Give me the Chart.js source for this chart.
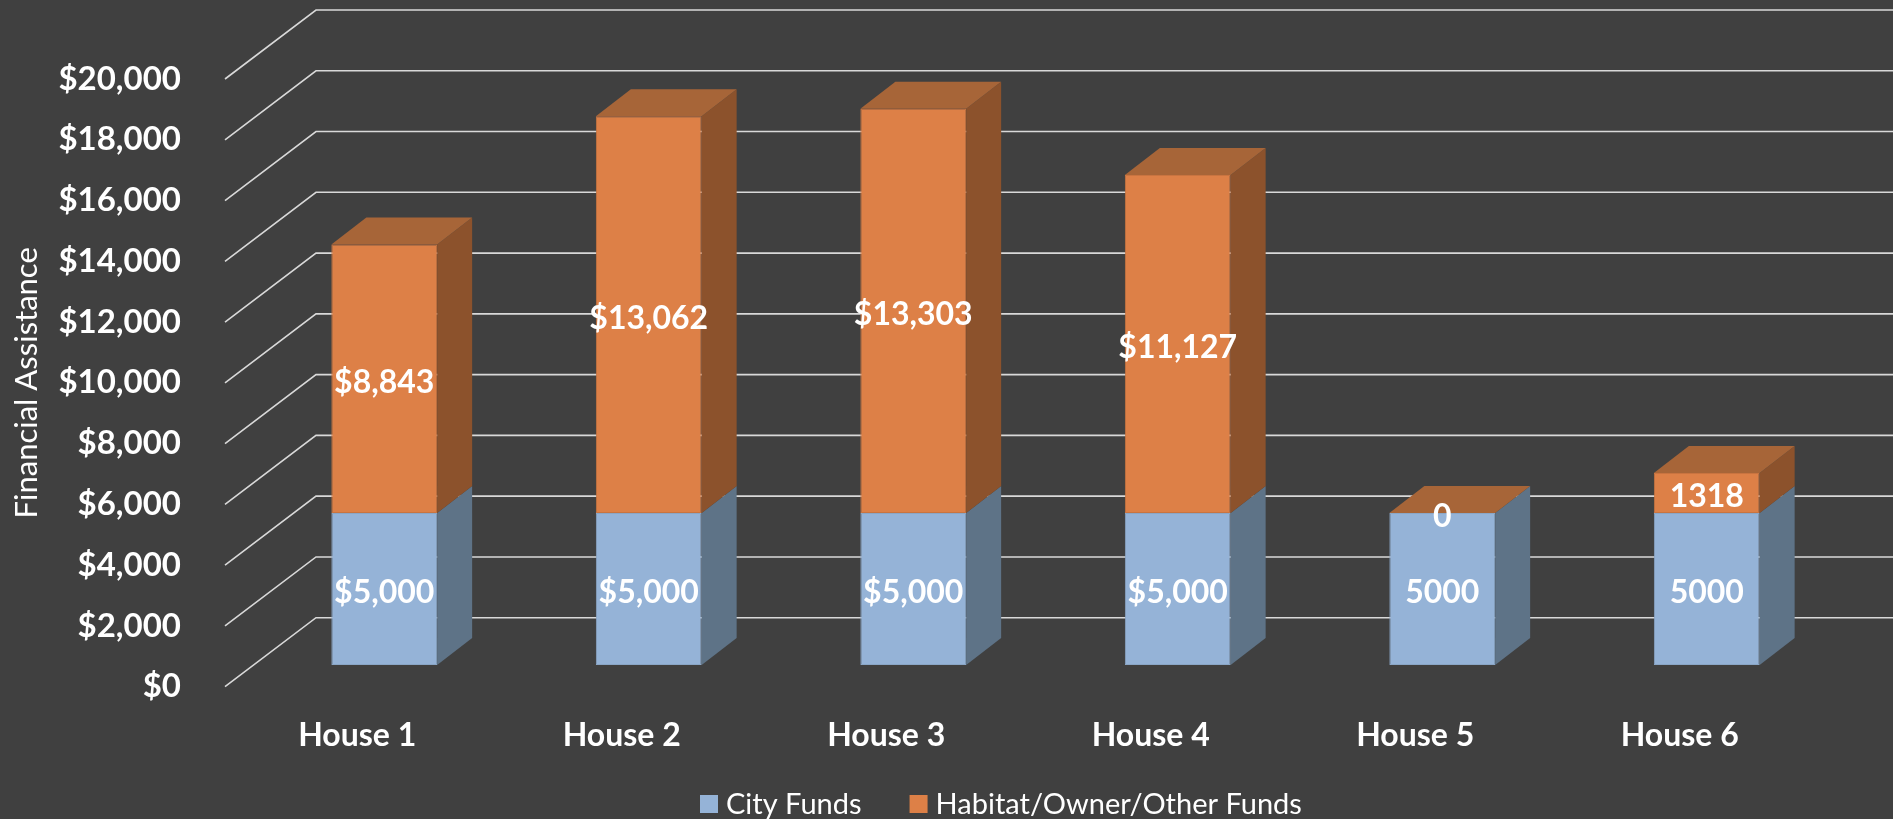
<!DOCTYPE html>
<html><head><meta charset="utf-8">
<script src="https://cdn.jsdelivr.net/npm/chart.js@4/dist/chart.umd.min.js"></script>
<style>
html,body{margin:0;padding:0;background:#404040;overflow:hidden}
#wrap{position:relative;width:1893px;height:819px}
</style></head>
<body><div id="wrap"><canvas id="c"></canvas></div>
<script>
// ---- data ----
const categories = ['House 1','House 2','House 3','House 4','House 5','House 6'];
const cityFunds  = [5000, 5000, 5000, 5000, 5000, 5000];
const otherFunds = [8843, 13062, 13303, 11127, 0, 1318];
const seriesNames = ['City Funds', 'Habitat/Owner/Other Funds'];
const dollarLabels = [true, true, true, true, false, false]; // label style per house
const yMin = 0, yMax = 20000, yStep = 2000;
const yTitle = 'Financial Assistance';

// ---- style ----
const FONT = 'Lato, "Open Sans", sans-serif';
const frontCol = ['#95b3d7', '#dd8047'];
const sideCol  = ['#5e7387', '#8c522c'];
const topCol   = ['#7f98b6', '#a76538'];
const SHIFT = {x: 27, y: -21.7};   // bar front plane offset from floor front
const DEPTH = {x: 35, y: -27};     // bar depth
const FLOOR = {x: 91, y: -69};     // floor / wall depth

const fmtDollar = v => '$' + Number(v).toLocaleString('en-US');

const depth3d = {
  id: 'depth3d',
  beforeDatasetsDraw(chart) {
    const {ctx, chartArea: a, scales: {y}} = chart;
    ctx.save();
    ctx.strokeStyle = '#d9d9d9';
    ctx.lineWidth = 1.6;
    y.ticks.forEach(t => {
      const py = y.getPixelForValue(t.value);
      ctx.beginPath();
      ctx.moveTo(a.left, py);
      ctx.lineTo(a.left + FLOOR.x, py + FLOOR.y);
      ctx.lineTo(chart.width, py + FLOOR.y);
      ctx.stroke();
    });
    const n = chart.data.datasets.length;
    chart.data.datasets.forEach((ds, di) => {
      const meta = chart.getDatasetMeta(di);
      meta.data.forEach(bar => {
        const p = bar.getProps(['x', 'y', 'base', 'width'], true);
        const l = p.x - p.width / 2 + SHIFT.x, r = p.x + p.width / 2 + SHIFT.x;
        const t = Math.min(p.y, p.base) + SHIFT.y, b = Math.max(p.y, p.base) + SHIFT.y;
        ctx.fillStyle = sideCol[di];
        ctx.beginPath();
        ctx.moveTo(r, b); ctx.lineTo(r + DEPTH.x, b + DEPTH.y);
        ctx.lineTo(r + DEPTH.x, t + DEPTH.y); ctx.lineTo(r, t);
        ctx.closePath(); ctx.fill();
        if (di === n - 1) {
          ctx.fillStyle = topCol[di];
          ctx.beginPath();
          ctx.moveTo(l, t); ctx.lineTo(l + DEPTH.x, t + DEPTH.y);
          ctx.lineTo(r + DEPTH.x, t + DEPTH.y); ctx.lineTo(r, t);
          ctx.closePath(); ctx.fill();
        }
      });
    });
    ctx.translate(SHIFT.x, SHIFT.y);
  },
  afterDatasetsDraw(chart) {
    const ctx = chart.ctx;
    ctx.restore();
    ctx.save();
    ctx.fillStyle = '#ffffff';
    ctx.font = 'bold 32px ' + FONT;
    ctx.textAlign = 'center';
    ctx.textBaseline = 'middle';
    chart.data.datasets.forEach((ds, di) => {
      const meta = chart.getDatasetMeta(di);
      meta.data.forEach((bar, i) => {
        const p = bar.getProps(['x', 'y', 'base'], true);
        const v = ds.data[i];
        const txt = dollarLabels[i] ? fmtDollar(v) : String(v);
        ctx.fillText(txt, p.x + SHIFT.x, (p.y + p.base) / 2 + SHIFT.y + 4);
      });
    });
    ctx.restore();
  },
  afterDraw(chart) {
    const ctx = chart.ctx;
    ctx.save();
    ctx.font = '29px ' + FONT;
    ctx.textBaseline = 'middle';
    ctx.textAlign = 'left';
    let x = 700; const cy = 804;
    chart.data.datasets.forEach((ds, di) => {
      ctx.fillStyle = frontCol[di];
      ctx.fillRect(x, cy - 9, 18, 18);
      ctx.fillStyle = '#ffffff';
      ctx.fillText(ds.label, x + 26, cy + 1);
      x += 26 + ctx.measureText(ds.label).width + 48;
    });
    ctx.restore();
  }
};

function build() {
  new Chart(document.getElementById('c'), {
    type: 'bar',
    data: {
      labels: categories,
      datasets: [
        {label: seriesNames[0], data: cityFunds, backgroundColor: frontCol[0], borderColor: '#8aa6c6', borderWidth: 1, borderSkipped: false},
        {label: seriesNames[1], data: otherFunds, backgroundColor: frontCol[1], borderColor: '#c97440', borderWidth: 1, borderSkipped: false}
      ]
    },
    options: {
      responsive: true, maintainAspectRatio: false, devicePixelRatio: 1, animation: false,
      layout: {padding: {left: 0, right: 81, top: 79, bottom: 0}},
      datasets: {bar: {barPercentage: 1, categoryPercentage: 0.4}},
      plugins: {legend: {display: false}, tooltip: {enabled: false}},
      scales: {
        x: {
          stacked: true,
          grid: {display: false, drawTicks: false}, border: {display: false},
          ticks: {color: '#ffffff', font: {family: FONT, size: 32, weight: 'bold'}, padding: 30, maxRotation: 0},
          afterFit(s) { s.height = 132.3; }
        },
        y: {
          stacked: true, min: yMin, max: yMax,
          grid: {display: false, drawTicks: false}, border: {display: false},
          ticks: {stepSize: yStep, color: '#ffffff', font: {family: FONT, size: 33, weight: 'bold'}, padding: 44,
                  callback: v => fmtDollar(v)},
          title: {display: true, text: yTitle, color: '#ffffff', font: {family: FONT, size: 31}, padding: {top: 8, bottom: 0}},
          afterFit(s) { s.width = 225; }
        }
      }
    },
    plugins: [depth3d]
  });
}
const fl = document.fonts ? Promise.all([document.fonts.load('bold 32px Lato'), document.fonts.load('29px Lato')]).catch(()=>{}) : Promise.resolve();
fl.then(build, build);
</script>
</body></html>
